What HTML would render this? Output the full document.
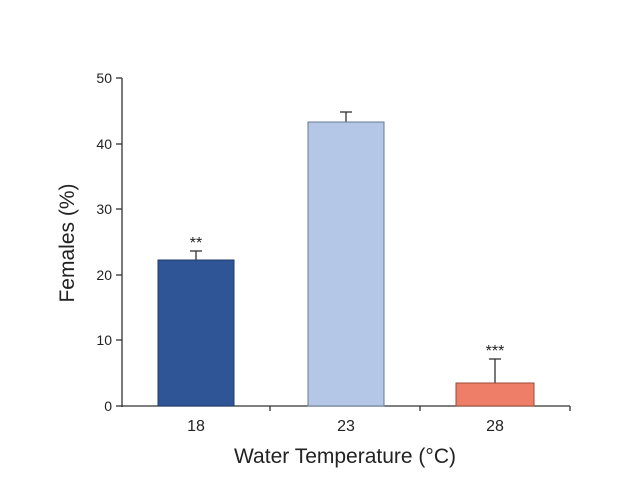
<!DOCTYPE html>
<html><head><style>body{margin:0;background:#fff}</style></head><body>
<svg width="640" height="480" xmlns="http://www.w3.org/2000/svg" font-family="Liberation Sans, sans-serif" fill="#222">
<g stroke="#333" stroke-width="1.3">
<line x1="122" y1="78" x2="122" y2="407"/>
<line x1="121" y1="406" x2="570" y2="406"/>
<line x1="116" y1="78" x2="122" y2="78"/>
<line x1="116" y1="144" x2="122" y2="144"/>
<line x1="116" y1="209" x2="122" y2="209"/>
<line x1="116" y1="275" x2="122" y2="275"/>
<line x1="116" y1="340" x2="122" y2="340"/>
<line x1="116" y1="406" x2="122" y2="406"/>
<line x1="270" y1="406" x2="270" y2="411"/>
<line x1="420" y1="406" x2="420" y2="411"/>
<line x1="570" y1="406" x2="570" y2="411"/>
<line x1="196" y1="260" x2="196" y2="251"/><line x1="190" y1="251" x2="202" y2="251"/>
<line x1="346" y1="122" x2="346" y2="112"/><line x1="340" y1="112" x2="352" y2="112"/>
<line x1="495" y1="383" x2="495" y2="359"/><line x1="489" y1="359" x2="501" y2="359"/>
</g>
<rect x="158" y="260" width="76" height="146" fill="#2f5597" stroke="#1f3a6a" stroke-width="1"/>
<rect x="308" y="122" width="76" height="284" fill="#b4c7e7" stroke="#6a7a90" stroke-width="1"/>
<rect x="456" y="383" width="78" height="23" fill="#ee7e68" stroke="#9a4a3a" stroke-width="1"/>
<g font-size="14" text-anchor="end">
<text x="112" y="83">50</text><text x="112" y="149">40</text><text x="112" y="214">30</text>
<text x="112" y="280">20</text><text x="112" y="345">10</text><text x="112" y="411">0</text>
</g>
<g font-size="16" text-anchor="middle">
<text x="196" y="431">18</text><text x="346" y="431">23</text><text x="495" y="431">28</text>
<text x="196" y="248" font-size="16">**</text><text x="495" y="356" font-size="16">***</text>
</g>
<text x="345" y="463" font-size="21" text-anchor="middle">Water Temperature (°C)</text>
<text transform="translate(74,243) rotate(-90)" font-size="21" text-anchor="middle">Females (%)</text>
</svg>
</body></html>
